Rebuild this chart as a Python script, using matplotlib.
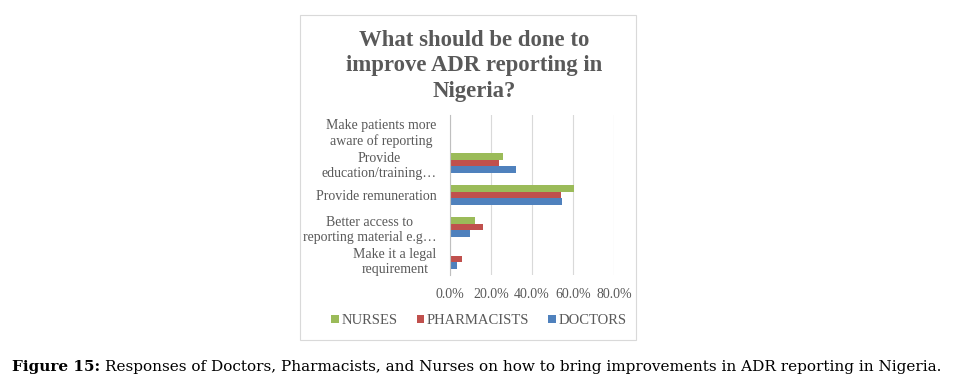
import numpy as np
import matplotlib.pyplot as plt
from matplotlib.patches import Rectangle

# data
categories = ['Make it a legal\nrequirement',
              'Better access to\nreporting material e.g…',
              'Provide remuneration',
              'Provide\neducation/training…',
              'Make patients more\naware of reporting']
nurses = [0.8, 12.5, 60.3, 25.7, 0.8]
pharmacists = [5.8, 16.2, 54.3, 24.2, 0.0]
doctors = [3.7, 9.8, 54.6, 32.2, 0.0]
xticks = [0, 20, 40, 60, 80]

plt.rcParams['font.family'] = ['Liberation Serif', 'DejaVu Serif']
grey = '#595959'

fig = plt.figure(figsize=(9.61, 3.81), dpi=100)
ax = fig.add_axes([0.468, 0.278, 0.171, 0.420])

barH = 0.2
y = np.arange(len(categories))
ax.barh(y + barH, nurses, height=barH, color='#9BBB59', label='NURSES')
ax.barh(y, pharmacists, height=barH, color='#C0504D', label='PHARMACISTS')
ax.barh(y - barH, doctors, height=barH, color='#4F81BD', label='DOCTORS')

ax.set_xlim(0, 80)
ax.set_ylim(-0.5, len(categories) - 0.5)
ax.set_xticks(xticks)
ax.set_xticklabels(['%.1f%%' % v for v in xticks], fontsize=10, color=grey)
ax.set_yticks(y)
ax.set_yticklabels(categories, fontsize=10, color=grey, multialignment='center')
ax.tick_params(length=0)
ax.tick_params(axis='y', pad=9.5)
ax.tick_params(axis='x', pad=9)
ax.grid(axis='x', color='#d9d9d9', lw=0.8)
ax.set_axisbelow(True)
for s in ['top', 'right', 'bottom']:
    ax.spines[s].set_visible(False)
ax.spines['left'].set_color('#bfbfbf')

# title
fig.text(474 / 961, 1 - 66 / 381, 'What should be done to\nimprove ADR reporting in\nNigeria?',
         ha='center', va='center', fontsize=16.4, fontweight='bold', color=grey,
         linespacing=1.27)

# legend
fig.legend(loc='center', bbox_to_anchor=(479 / 961, 1 - 321 / 381), ncol=3, frameon=False,
           fontsize=10.5, handlelength=0.5, handleheight=0.5, columnspacing=1.3,
           handletextpad=0.2, labelcolor=grey)

# chart border
fig.patches.append(Rectangle((300 / 961, 1 - 340 / 381), 336 / 961, 325 / 381,
                             transform=fig.transFigure, fill=False, ec='#d9d9d9', lw=0.8))

# caption
cap_y = 1 - 367 / 381
t1 = fig.text(12 / 961, cap_y, 'Figure 15:', fontsize=11, fontweight='bold', va='center',
              family='DejaVu Serif')
t2 = fig.text(91 / 961, cap_y,
              'Responses of Doctors, Pharmacists, and Nurses on how to bring improvements in ADR reporting in Nigeria.',
              fontsize=11, va='center', family='DejaVu Serif')

# fit the caption to the width used in the reference
r = fig.canvas.get_renderer()
w1 = t1.get_window_extent(r).width
w2 = t2.get_window_extent(r).width
scale = (937 - 12) / (w1 + 5 + w2)
t1.set_fontsize(11 * scale)
t2.set_fontsize(11 * scale)
t2.set_x((12 + (w1 + 5) * scale) / 961)

fig.savefig('out.png', dpi=100)
